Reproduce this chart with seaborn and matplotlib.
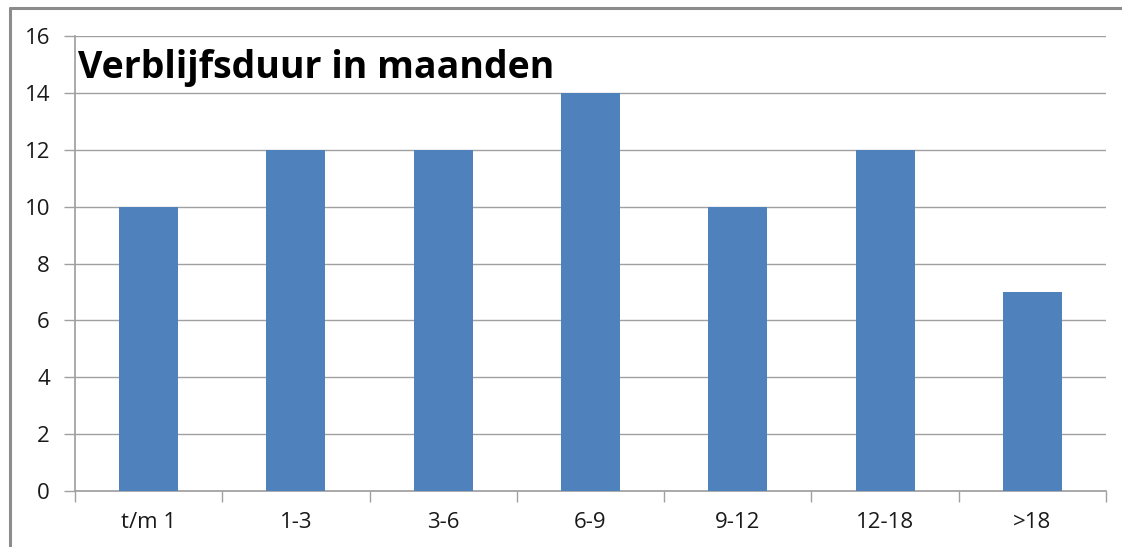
import matplotlib
matplotlib.use("Agg")
import matplotlib.pyplot as plt
import seaborn as sns
import pandas as pd
from matplotlib.lines import Line2D

categories = ["t/m 1", "1-3", "3-6", "6-9", "9-12", "12-18", ">18"]
values = [10, 12, 12, 14, 10, 12, 7]
yticks = [0, 2, 4, 6, 8, 10, 12, 14, 16]
title = "Verblijfsduur in maanden"

sns.set_theme(style="white")
plt.rcParams['font.family'] = ['Open Sans', 'DejaVu Sans']

df = pd.DataFrame({"cat": categories, "val": values})

fig = plt.figure(figsize=(11.22, 5.47), dpi=100)
fig.patch.set_facecolor("white")
W, H = 1122, 547
# outer frame (top and left edges visible)
fx, fy = 10 / W, (H - 8) / H
fig.lines.append(Line2D([fx, 1.1], [fy, fy], transform=fig.transFigure,
                        color="#8c8c8c", linewidth=2.2, figure=fig))
fig.lines.append(Line2D([fx, fx], [-0.1, fy], transform=fig.transFigure,
                        color="#8c8c8c", linewidth=2.2, figure=fig))

ax = fig.add_axes([75 / W, 56 / H, (1106 - 75) / W, (491 - 36) / H])
sns.barplot(data=df, x="cat", y="val", ax=ax, color="#4F81BD", width=0.4,
            saturation=1, edgecolor="none", zorder=3)
ax.set_ylim(0, 16)
ax.set_xlim(-0.5, len(categories) - 0.5)
ax.set_yticks(yticks)
ax.set_yticklabels([str(t) for t in yticks], fontsize=16, color="#1a1a1a")
ax.set_xticks(range(len(categories)))
ax.set_xticklabels(categories, fontsize=16, color="#1a1a1a")
ax.tick_params(axis="x", length=0, pad=15)
ax.tick_params(axis="y", length=8, width=1, color="#a0a0a0", pad=10, left=True)
# boundary tick marks on x axis
ax.set_xticks([i - 0.5 for i in range(len(categories) + 1)], minor=True)
ax.tick_params(axis="x", which="minor", length=8, width=1, color="#a0a0a0", bottom=True)
ax.grid(axis="y", color="#a0a0a0", linewidth=1, zorder=0)
ax.set_axisbelow(True)
for s in ["top", "right"]:
    ax.spines[s].set_visible(False)
ax.spines["left"].set_color("#a0a0a0")
ax.spines["bottom"].set_color("#a0a0a0")
ax.set_xlabel("")
ax.set_ylabel("")
ax.text(78 / W, (547 - 68) / H, title, transform=fig.transFigure,
        fontsize=27, fontweight="bold", color="black", va="center", ha="left")

fig.savefig("out.png", dpi=100, facecolor="white")
